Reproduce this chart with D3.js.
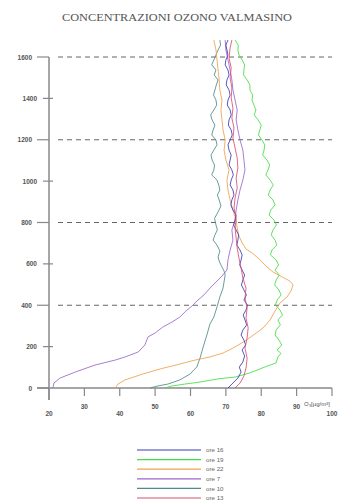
<!DOCTYPE html>
<html><head><meta charset="utf-8">
<script src="https://cdn.jsdelivr.net/npm/d3@7"></script>
<style>body{margin:0;background:#fff}svg{display:block}</style>
</head><body>
<script>
const title = "CONCENTRAZIONI OZONO VALMASINO";
const xTicks = [20,30,40,50,60,70,80,90,100];
const yTicks = [0,200,400,600,800,1000,1200,1400,1600];
const gridLines = [400,800,1200,1600];
const xLabel = "O\u2083[\u00b5g/m\u00b3]";
const seriesNames = ["ore 16","ore 19","ore 22","ore 7","ore 10","ore 13"];
const seriesColors = ["#3a3ab8","#44dd44","#eea050","#9a66cc","#4f8c86","#d8506e"];
// values [O3, altitude]
const ore16 = [[70.6,0],[71.7,19],[73.4,48],[74.3,77],[73.8,101],[74.8,126],[75.3,155],[74.6,184],[75.6,208],[75.1,232],[74.3,256],[74.8,280],[75.9,305],[75.4,329],[74.9,353],[75.7,377],[76.1,401],[75.1,425],[75.8,450],[75.1,474],[74.4,498],[74.8,522],[75.3,546],[74.6,570],[73.9,595],[74.3,619],[74.6,643],[74.0,667],[73.1,691],[73.4,715],[73.6,740],[72.9,764],[72.2,788],[72.6,812],[72.9,836],[72.0,860],[71.4,885],[71.7,909],[72.3,933],[72.0,957],[71.2,981],[71.5,1005],[72.1,1030],[71.7,1054],[70.9,1078],[71.2,1102],[71.5,1126],[70.9,1150],[70.6,1175],[71.2,1199],[71.8,1223],[71.5,1247],[70.7,1271],[70.9,1296],[71.5,1320],[71.2,1344],[70.4,1368],[70.6,1392],[71.2,1416],[70.9,1440],[70.1,1465],[70.3,1489],[70.9,1513],[70.6,1537],[69.8,1562],[70.0,1586],[70.6,1610],[70.3,1634],[70.0,1658],[70.6,1682]];
const ore19 = [[52.8,0],[54.8,10],[58.4,19],[62.7,29],[67.8,44],[72.6,53],[76.8,73],[81.1,102],[84.2,121],[84.7,150],[85.6,167],[84.5,184],[85.8,208],[85.0,232],[83.9,256],[84.2,280],[85.4,305],[84.7,329],[86.0,353],[85.3,377],[84.0,401],[84.5,425],[85.6,450],[85.0,474],[83.8,498],[84.2,522],[85.1,546],[83.9,570],[84.9,595],[84.2,619],[82.6,643],[83.0,667],[84.4,691],[83.9,715],[82.8,740],[83.3,764],[84.3,788],[83.6,812],[82.2,836],[82.7,860],[83.9,885],[83.3,909],[82.0,933],[82.5,957],[83.4,981],[82.5,1005],[81.3,1030],[81.9,1054],[82.4,1078],[81.6,1102],[80.4,1126],[80.8,1150],[81.0,1175],[80.2,1199],[79.2,1223],[79.6,1247],[80.0,1271],[79.1,1296],[78.0,1320],[78.5,1344],[77.9,1368],[77.4,1392],[77.6,1416],[76.8,1440],[76.8,1465],[76.0,1489],[75.0,1513],[75.1,1537],[75.3,1562],[74.6,1586],[73.7,1610],[73.4,1634],[73.5,1658],[72.6,1682]];
const ore22 = [[38.7,0],[39.5,19],[41.5,39],[46.6,68],[51.4,92],[57.0,116],[61.3,135],[65.5,150],[69.2,169],[72.0,193],[75.4,227],[78.2,261],[80.5,290],[82.5,329],[83.9,372],[85.3,411],[87.3,440],[88.4,469],[89.0,498],[88.1,517],[85.9,537],[83.3,561],[81.3,590],[79.4,624],[77.4,653],[75.7,672],[74.6,701],[73.7,735],[73.2,773],[72.9,812],[72.0,860],[71.2,909],[70.6,957],[70.3,1005],[70.9,1054],[70.0,1102],[69.5,1150],[69.8,1199],[69.2,1247],[68.9,1296],[68.6,1344],[68.9,1392],[68.3,1440],[68.1,1489],[67.8,1537],[67.5,1586],[67.2,1634],[66.6,1682]];
const ore7 = [[21.1,0],[21.4,24],[23.1,48],[27.4,77],[33.0,111],[38.7,135],[41.5,150],[45.2,174],[47.1,208],[48.0,247],[50.0,266],[52.2,295],[54.8,319],[57.0,343],[58.7,372],[60.4,396],[62.1,425],[63.8,450],[65.5,483],[67.2,512],[68.9,541],[70.3,570],[70.6,619],[71.2,667],[72.0,715],[71.7,764],[72.6,812],[72.9,860],[73.4,909],[74.0,957],[74.8,1005],[75.4,1054],[75.1,1102],[74.8,1150],[74.0,1199],[73.4,1247],[72.9,1296],[73.2,1344],[72.6,1392],[72.0,1440],[71.7,1489],[71.2,1537],[70.6,1586],[70.0,1634],[69.8,1682]];
const ore10 = [[48.6,0],[50.8,10],[53.6,19],[57.0,39],[59.9,68],[61.8,102],[62.7,145],[63.5,193],[64.7,261],[65.5,309],[66.6,343],[67.5,392],[68.3,440],[69.2,483],[69.8,546],[69.5,565],[68.9,585],[68.2,609],[67.8,633],[68.3,662],[67.5,691],[66.4,715],[66.9,740],[67.6,764],[67.2,788],[66.8,820],[67.8,851],[68.6,880],[68.1,909],[67.6,933],[68.3,957],[68.0,981],[67.5,1005],[66.0,1030],[66.6,1054],[66.8,1078],[66.1,1102],[65.8,1126],[66.6,1150],[67.5,1175],[67.2,1199],[66.0,1223],[66.4,1247],[66.9,1271],[66.1,1296],[65.7,1320],[66.6,1344],[67.4,1368],[67.2,1392],[66.5,1416],[66.9,1440],[67.3,1465],[67.8,1489],[66.7,1513],[67.2,1537],[66.0,1562],[66.6,1586],[67.2,1610],[67.8,1634],[68.5,1658],[68.3,1682]];
const ore13 = [[72.6,0],[74.0,24],[75.1,58],[75.7,97],[76.0,145],[75.4,193],[76.0,242],[76.3,290],[75.7,338],[76.0,387],[75.4,435],[75.7,483],[74.8,532],[74.3,580],[73.7,628],[73.2,677],[72.9,725],[72.6,773],[72.9,822],[72.3,870],[72.6,918],[73.2,967],[72.9,1015],[73.4,1064],[73.2,1112],[72.6,1160],[72.0,1209],[72.3,1257],[71.7,1305],[72.0,1354],[71.5,1402],[71.7,1450],[71.2,1499],[71.5,1547],[70.9,1595],[71.2,1644],[71.7,1682]];
const seriesData = [ore16, ore19, ore22, ore7, ore10, ore13];
const drawOrder = [4,1,2,3,0,5];

const W = 338, H = 502;
const svg = d3.select("body").append("svg").attr("width", W).attr("height", H);
const x = d3.scaleLinear().domain([20,100]).range([49,332]);
const y = d3.scaleLinear().domain([0,1600]).range([388,57]);

svg.append("text").attr("x",177).attr("y",21).attr("text-anchor","middle")
  .attr("font-family","Liberation Serif").attr("font-size",10).attr("fill","#555")
  .attr("textLength",230).attr("lengthAdjust","spacingAndGlyphs").text(title);

// dashed grid
svg.append("g").selectAll("line").data(gridLines).join("line")
  .attr("x1",58).attr("x2",332).attr("y1",d=>y(d)).attr("y2",d=>y(d))
  .attr("stroke","#666").attr("stroke-width",1).attr("stroke-dasharray","5,4");

// axes lines
const axCol = "#888";
svg.append("line").attr("x1",x(20)).attr("x2",x(20)).attr("y1",y(1600)).attr("y2",400).attr("stroke",axCol).attr("stroke-width",1.5);
svg.append("line").attr("x1",37).attr("x2",x(100)).attr("y1",y(0)).attr("y2",y(0)).attr("stroke",axCol).attr("stroke-width",1.5);

// y ticks
const ytg = svg.append("g");
yTicks.forEach((t,i)=>{
  const major = i%2===0;
  ytg.append("line").attr("x1",major?37:43).attr("x2",major?49:53).attr("y1",y(t)).attr("y2",y(t)).attr("stroke",axCol).attr("stroke-width",1.2);
  ytg.append("text").attr("x",major?32:37).attr("y",y(t)+2.5).attr("text-anchor","end")
    .attr("font-family","Liberation Sans").attr("font-size",6.5).attr("font-weight","bold").attr("fill","#555").text(t);
});
// x ticks
const xtg = svg.append("g");
xTicks.forEach((t,i)=>{
  xtg.append("line").attr("x1",x(t)).attr("x2",x(t)).attr("y1",y(0)).attr("y2",i===0?400:396).attr("stroke",axCol).attr("stroke-width",1.2);
  xtg.append("text").attr("x",x(t)).attr("y",i%2===0?416:409).attr("text-anchor","middle")
    .attr("font-family","Liberation Sans").attr("font-size",6.5).attr("font-weight","bold").attr("fill","#555").text(t);
});
svg.append("text").attr("x",304).attr("y",406).attr("font-family","Liberation Sans").attr("font-size",6).attr("fill","#555").text(xLabel);

// series
const line = d3.line().x(d=>x(d[0])).y(d=>y(d[1]));
drawOrder.forEach(i=>{
  svg.append("path").datum(seriesData[i]).attr("d",line).attr("fill","none")
    .attr("stroke",seriesColors[i]).attr("stroke-width",1).attr("stroke-opacity",0.85);
});

// legend
seriesNames.forEach((n,i)=>{
  const ly = 450 + i*9.6;
  svg.append("line").attr("x1",137).attr("x2",201).attr("y1",ly).attr("y2",ly).attr("stroke",seriesColors[i]).attr("stroke-width",1.2);
  svg.append("text").attr("x",206).attr("y",ly+2.2).attr("font-family","Liberation Sans").attr("font-size",6.2).attr("fill","#666").text(n);
});
</script>
</body></html>
